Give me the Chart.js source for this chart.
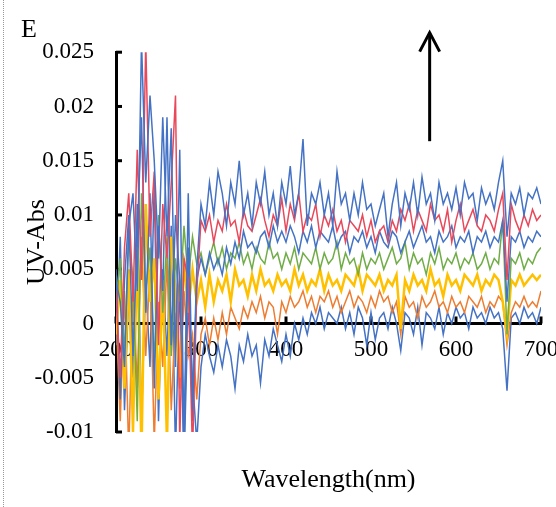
<!DOCTYPE html>
<html lang="en">
<head>
    <meta charset="UTF-8">
    <title>UV-Abs spectra</title>
    <style>
        body { margin: 0; background: #fff; }
        #wrap { position: relative; width: 556px; height: 507px; }
        #frame { position: absolute; left: 3px; top: 0; height: 507px; border-left: 1px dotted #999; }
        canvas { position: absolute; left: 0; top: 0; }
    </style>
</head>
<body>
<div id="wrap">
    <div id="frame"></div>
    <canvas id="myChart" width="556" height="507"></canvas>
</div>
<script src="https://cdn.jsdelivr.net/npm/chart.js"></script>
<script>
// wavelength (nm)
const wavelengths = [200,205,210,215,220,225,230,235,240,245,250,255,260,265,270,275,280,285,290,295,
    300,305,310,315,320,325,330,335,340,345,350,355,360,365,370,375,380,385,390,395,
    400,405,410,415,420,425,430,435,440,445,450,455,460,465,470,475,480,485,490,495,
    500,505,510,515,520,525,530,535,540,545,550,555,560,565,570,575,580,585,590,595,
    600,605,610,615,620,625,630,635,640,645,650,655,660,665,670,675,680,685,690,695,700];

// absorbance of each spectrum
const blueTop = [0.004,0.002,-0.004,0.009,0.012,0.003,0.026,0.013,0.021,0.015,0.006,0.019,0.008,0.018,-0.004,0.016,-0.011,0.012,-0.008,0.005,
    0.011,0.009,0.013,0.010,0.014,0.012,0.009,0.013,0.011,0.015,0.010,0.012,0.009,0.013,0.011,0.014,0.010,0.012,0.009,0.013,
    0.011,0.0145,0.010,0.012,0.017,0.009,0.012,0.011,0.013,0.010,0.012,0.009,0.014,0.011,0.012,0.0095,0.012,0.010,0.013,0.0105,
    0.011,0.009,0.0105,0.012,0.008,0.011,0.013,0.009,0.012,0.0105,0.013,0.010,0.0135,0.011,0.012,0.0095,0.013,0.011,0.012,0.0105,
    0.0125,0.010,0.013,0.0115,0.012,0.0095,0.0125,0.011,0.012,0.0105,0.013,0.015,0.008,0.012,0.011,0.0125,0.010,0.012,0.0115,0.0125,0.011];
const red = [0.003,-0.005,0.007,0.012,0.002,0.016,0.004,0.026,0.008,0.014,-0.002,0.011,0.006,0.013,0.021,-0.011,0.006,0.004,-0.012,0.003,
    0.0095,0.0085,0.010,0.0075,0.0095,0.0085,0.011,0.009,0.0095,0.0075,0.0105,0.009,0.0085,0.010,0.0115,0.0095,0.008,0.010,0.009,0.0115,
    0.0085,0.011,0.0095,0.012,0.0085,0.010,0.0095,0.011,0.008,0.010,0.009,0.0105,0.0085,0.0095,0.0075,0.0095,0.009,0.0085,0.010,0.008,
    0.0095,0.0075,0.0085,0.009,0.0075,0.0095,0.0085,0.0105,0.0095,0.011,0.0085,0.0105,0.0095,0.0085,0.011,0.0095,0.010,0.0085,0.0105,0.0075,
    0.0095,0.011,0.0085,0.0095,0.0105,0.009,0.0085,0.010,0.0095,0.0085,0.0105,0.012,0.004,0.011,0.0095,0.0085,0.010,0.009,0.0105,0.0095,0.010];
const blueMid = [0.005,-0.007,0.004,0.010,-0.003,0.008,0.019,0.001,0.012,-0.006,0.009,0.003,0.019,-0.002,0.010,0.004,-0.012,0.007,-0.009,0.004,
    0.006,0.0045,0.0065,0.005,0.006,0.0045,0.007,0.0055,0.0075,0.006,0.0085,0.007,0.0075,0.0065,0.008,0.0085,0.007,0.009,0.0075,0.0085,
    0.0075,0.009,0.008,0.0065,0.0085,0.0075,0.009,0.007,0.0085,0.008,0.0075,0.009,0.007,0.008,0.0085,0.0065,0.008,0.0075,0.0085,0.007,
    0.008,0.0065,0.0085,0.0075,0.007,0.0085,0.008,0.0065,0.0075,0.0085,0.007,0.008,0.009,0.0075,0.008,0.0065,0.0085,0.0075,0.008,0.009,
    0.007,0.008,0.0075,0.0085,0.0065,0.008,0.0075,0.0085,0.007,0.008,0.0075,0.0095,0.002,0.008,0.0075,0.0085,0.007,0.008,0.0075,0.0085,0.008];
const green = [0.002,0.006,-0.003,0.008,0.004,-0.009,0.012,0.003,0.007,-0.004,0.010,0.001,0.008,-0.003,0.006,0.002,0.009,0.004,0.008,0.0055,
    0.0065,0.0045,0.006,0.0075,0.0055,0.007,0.005,0.0065,0.006,0.0075,0.0055,0.0065,0.005,0.007,0.006,0.0055,0.0075,0.006,0.0065,0.005,
    0.0065,0.0055,0.007,0.005,0.0065,0.006,0.0055,0.007,0.005,0.0065,0.0055,0.006,0.0075,0.005,0.0065,0.0055,0.006,0.0045,0.0065,0.005,
    0.006,0.0055,0.0065,0.005,0.006,0.007,0.0055,0.006,0.0075,0.005,0.0065,0.0055,0.006,0.0045,0.0065,0.0055,0.007,0.005,0.006,0.0055,
    0.0065,0.005,0.006,0.0055,0.0065,0.005,0.0055,0.0065,0.005,0.006,0.0055,0.0095,-0.001,0.006,0.0055,0.0065,0.005,0.006,0.0055,0.0065,0.007];
const yellow = [-0.001,0.004,-0.006,0.005,-0.010,0.007,-0.012,0.011,0.002,0.006,-0.007,0.004,-0.011,0.008,0.003,-0.005,0.006,0.001,0.005,0.002,
    0.004,0.0015,0.0045,0.002,0.004,0.003,0.0045,0.002,0.005,0.0035,0.004,0.0025,0.0045,0.003,0.005,0.0035,0.004,0.003,0.0045,0.0035,
    0.004,0.003,0.005,0.0035,0.0045,0.003,0.004,0.0035,0.005,0.003,0.0045,0.0035,0.004,0.003,0.0045,0.004,0.0035,0.005,0.003,0.0045,
    0.004,0.0035,0.0045,0.003,0.004,0.0035,0.0045,-0.0005,0.004,0.003,0.0045,0.0035,0.004,0.003,0.005,0.0035,0.004,0.0025,0.0045,0.0035,
    0.004,0.003,0.0045,0.004,0.0035,0.0045,0.003,0.004,0.0035,0.0045,0.004,0.002,-0.001,0.004,0.0035,0.0045,0.0035,0.004,0.0045,0.004,0.0045];
const orange = [0.001,-0.009,0.003,-0.012,0.004,-0.006,0.008,-0.003,0.005,-0.011,0.002,-0.004,0.006,-0.008,0.001,-0.006,0.003,-0.003,-0.001,-0.007,
    -0.001,0.0005,-0.002,0.0005,-0.0015,0.001,-0.001,0.0015,0.0005,-0.0005,0.0015,0.0005,0.002,0.001,0.0025,0.0005,0.002,0.0015,-0.001,0.002,
    0.001,0.0025,0.0015,0.002,0.003,0.0015,0.0025,0.001,0.0025,0.002,0.003,0.0015,0.0025,0.001,0.002,0.003,0.0015,0.0025,0.002,0.001,
    0.0025,0.0015,0.003,0.002,0.0025,0.001,0.002,-0.001,0.0025,0.0015,0.002,0.0005,0.0025,0.0015,0.002,0.003,0.0015,0.002,0.001,0.0025,
    0.0015,0.002,0.001,0.0025,0.002,0.0015,0.0025,0.001,0.002,0.0015,0.0025,0.002,-0.002,0.001,0.002,0.0015,0.0025,0.0015,0.002,0.0015,0.003];
const blueLow = [-0.002,0.008,-0.008,0.003,-0.005,0.011,-0.009,0.004,-0.004,0.013,-0.009,0.005,-0.003,0.009,-0.012,0.004,-0.013,0.002,-0.005,-0.011,
    -0.004,-0.001,-0.003,-0.0045,-0.002,-0.004,-0.0015,-0.003,-0.006,-0.002,-0.0035,-0.001,-0.003,-0.002,-0.0055,-0.0015,-0.003,-0.0005,-0.002,-0.0035,
    -0.001,-0.003,0,-0.0015,0.0005,-0.001,0.001,0,0.0015,-0.0005,0.001,0.0005,0,0.0015,-0.0005,0.001,-0.001,0.0015,0.0005,-0.002,
    0.001,-0.0015,0.0005,0.001,-0.0005,0.0015,0,-0.0025,0.001,0.0005,-0.001,0.0015,-0.002,0.001,0.0005,-0.0005,0.0015,-0.001,0.001,0,
    0.0015,0.0005,0.001,-0.0005,0.0015,0.0005,0.001,0,0.0015,0.0005,0.001,-0.0005,-0.0062,0.0005,0.001,0,0.0015,0.0005,0.001,0,0.0015];

// arrow showing the increase
const arrowAt = 569;
const arrowFrom = 0.0168;
const arrowTo = 0.0268;

const serif = "'Liberation Serif', 'Times New Roman', serif";

function line(data, color, width) {
    return {
        data: wavelengths.map((w, i) => ({ x: w, y: data[i] })),
        borderColor: color,
        borderWidth: width,
        pointRadius: 0,
        tension: 0,
        fill: false
    };
}

// short tick marks pointing into the plot + the arrow
const marks = {
    id: 'marks',
    beforeDatasetsDraw(chart) {
        const { ctx, scales: { x, y } } = chart;
        const y0 = y.getPixelForValue(0);
        ctx.save();
        ctx.strokeStyle = '#000';
        ctx.lineWidth = 3;
        y.ticks.forEach(t => {
            const py = y.getPixelForValue(t.value);
            ctx.beginPath(); ctx.moveTo(x.left, py); ctx.lineTo(x.left + 6, py); ctx.stroke();
        });
        x.ticks.forEach(t => {
            const px = x.getPixelForValue(t.value);
            ctx.beginPath(); ctx.moveTo(px, y0); ctx.lineTo(px, y0 - 7); ctx.stroke();
        });
        ctx.restore();
    },
    afterDatasetsDraw(chart) {
        const { ctx, scales: { x, y } } = chart;
        const px = x.getPixelForValue(arrowAt);
        const top = y.getPixelForValue(arrowTo);
        const bot = y.getPixelForValue(arrowFrom);
        ctx.save();
        ctx.strokeStyle = '#000';
        ctx.lineWidth = 3;
        ctx.beginPath(); ctx.moveTo(px, bot); ctx.lineTo(px, top); ctx.stroke();
        ctx.beginPath();
        ctx.moveTo(px - 10, top + 19); ctx.lineTo(px, top); ctx.lineTo(px + 10, top + 19);
        ctx.stroke();
        ctx.restore();
    }
};

new Chart(document.getElementById('myChart'), {
    type: 'line',
    data: {
        datasets: [
            line(blueTop, '#4472C4', 1.5),
            line(red, '#E8485A', 1.5),
            line(blueMid, '#4472C4', 1.5),
            line(green, '#70AD47', 1.5),
            line(yellow, '#FFC000', 2.5),
            line(orange, '#ED7D31', 1.5),
            line(blueLow, '#4472C4', 1.5)
        ]
    },
    options: {
        responsive: false,
        animation: false,
        layout: { padding: { left: 21, right: 15, top: 0, bottom: 0 } },
        plugins: {
            legend: { display: false },
            tooltip: { enabled: false },
            title: {
                display: true,
                text: 'E',
                align: 'start',
                color: '#000',
                font: { family: serif, size: 26, weight: 'normal' },
                padding: { top: 15, bottom: 6 }
            }
        },
        scales: {
            x: {
                type: 'linear',
                min: 200,
                max: 700,
                position: { y: 0 },
                grid: { display: false, drawTicks: false },
                border: { display: true, color: '#000', width: 3 },
                ticks: {
                    stepSize: 100,
                    padding: 13,
                    color: '#000',
                    font: { family: serif, size: 23 },
                    maxRotation: 0
                },
                afterFit(s) { s.paddingRight = 0; s.paddingLeft = 0; }
            },
            x2: {
                type: 'linear',
                position: 'bottom',
                min: 200,
                max: 700,
                grid: { display: false, drawTicks: false },
                border: { display: false },
                ticks: { display: false },
                title: {
                    display: true,
                    text: 'Wavelength(nm)',
                    color: '#000',
                    font: { family: serif, size: 26 },
                    padding: { top: 0, bottom: 11 }
                },
                afterFit(s) { s.height = 75; }
            },
            y: {
                min: -0.01,
                max: 0.025,
                grid: { display: false, drawTicks: false },
                border: { display: true, color: '#000', width: 3 },
                ticks: {
                    stepSize: 0.005,
                    padding: 22,
                    color: '#000',
                    font: { family: serif, size: 23 },
                    callback: v => String(Number(v.toFixed(3)))
                },
                title: {
                    display: true,
                    text: 'UV-Abs',
                    color: '#000',
                    font: { family: serif, size: 26 },
                    padding: { top: 1, bottom: 0 }
                },
                afterFit(s) { s.width = 95; }
            }
        }
    },
    plugins: [marks]
});
</script>
</body>
</html>
